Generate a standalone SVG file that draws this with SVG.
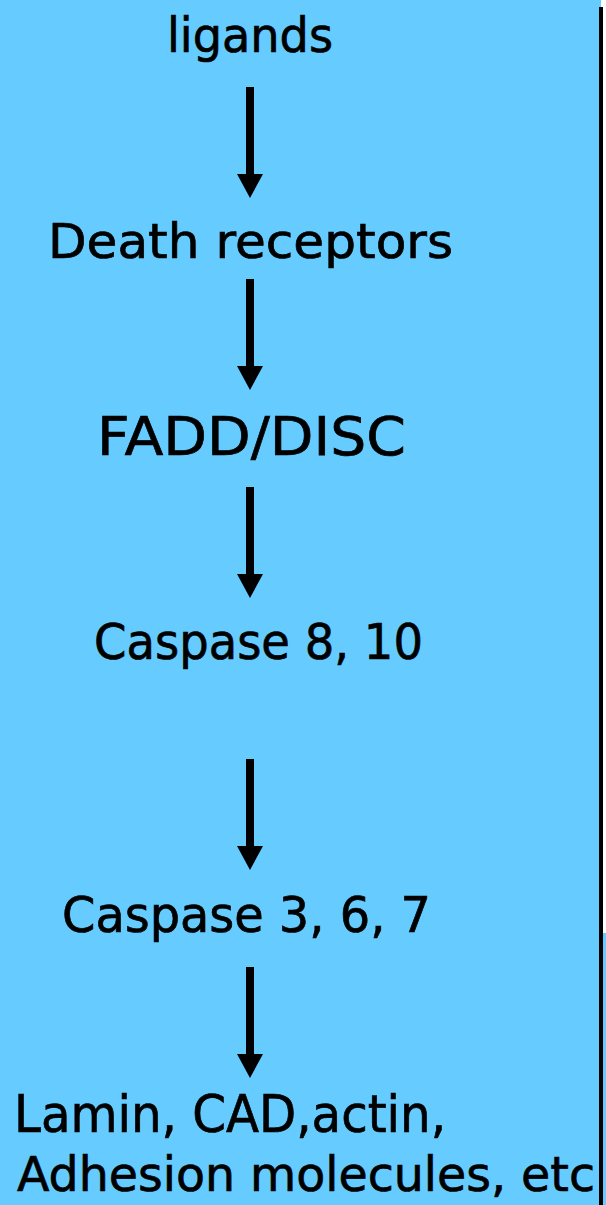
<svg xmlns="http://www.w3.org/2000/svg" width="606" height="1205" viewBox="0 0 606 1205">
  <style>
    .lbl { font-family: "DejaVu Sans", "Liberation Sans", sans-serif; fill: #000; stroke: #000; stroke-width: 0.7; }
    .shaft { stroke: #000; stroke-width: 8; fill: none; }
    .head { fill: #000; }
  </style>

  <!-- panel background -->
  <rect x="0" y="0" width="606" height="1205" fill="#fff"/>
  <rect x="0" y="0" width="601" height="1205" fill="#66CCFF"/>
  <rect x="601" y="933" width="5" height="272" fill="#66CCFF"/>

  <!-- pathway steps -->
  <g id="ligands">
    <text class="lbl" x="167" y="52" font-size="48" textLength="166" lengthAdjust="spacingAndGlyphs">ligands</text>
  </g>
  <g id="death-receptors">
    <text class="lbl" x="48" y="258" font-size="48" textLength="405" lengthAdjust="spacingAndGlyphs">Death receptors</text>
  </g>
  <g id="fadd-disc">
    <text class="lbl" x="97" y="455" font-size="54" textLength="309" lengthAdjust="spacingAndGlyphs">FADD/DISC</text>
  </g>
  <g id="caspase-8-10">
    <text class="lbl" x="94" y="659" font-size="49" textLength="329" lengthAdjust="spacingAndGlyphs">Caspase 8, 10</text>
  </g>
  <g id="caspase-3-6-7">
    <text class="lbl" x="62" y="932" font-size="49" textLength="369" lengthAdjust="spacingAndGlyphs">Caspase 3, 6, 7</text>
  </g>
  <g id="substrates">
    <text class="lbl" x="14" y="1132" font-size="51" textLength="432" lengthAdjust="spacingAndGlyphs">Lamin, CAD,actin,</text>
    <text class="lbl" x="17" y="1191" font-size="48" textLength="578" lengthAdjust="spacingAndGlyphs">Adhesion molecules, etc</text>
  </g>

  <!-- arrows between steps -->
  <g id="connectors">
    <line class="shaft" x1="250" y1="87" x2="250" y2="177"/>
    <polygon class="head" points="237,174 263,174 250,198"/>
    <line class="shaft" x1="250" y1="279" x2="250" y2="369"/>
    <polygon class="head" points="237,366 263,366 250,390"/>
    <line class="shaft" x1="250" y1="487" x2="250" y2="577"/>
    <polygon class="head" points="237,574 263,574 250,598"/>
    <line class="shaft" x1="250" y1="759" x2="250" y2="849"/>
    <polygon class="head" points="237,846 263,846 250,870"/>
    <line class="shaft" x1="250" y1="967" x2="250" y2="1057"/>
    <polygon class="head" points="237,1054 263,1054 250,1078"/>
  </g>

  <!-- right border rule -->
  <rect x="599" y="7" width="4" height="1198" fill="#000"/>
</svg>
